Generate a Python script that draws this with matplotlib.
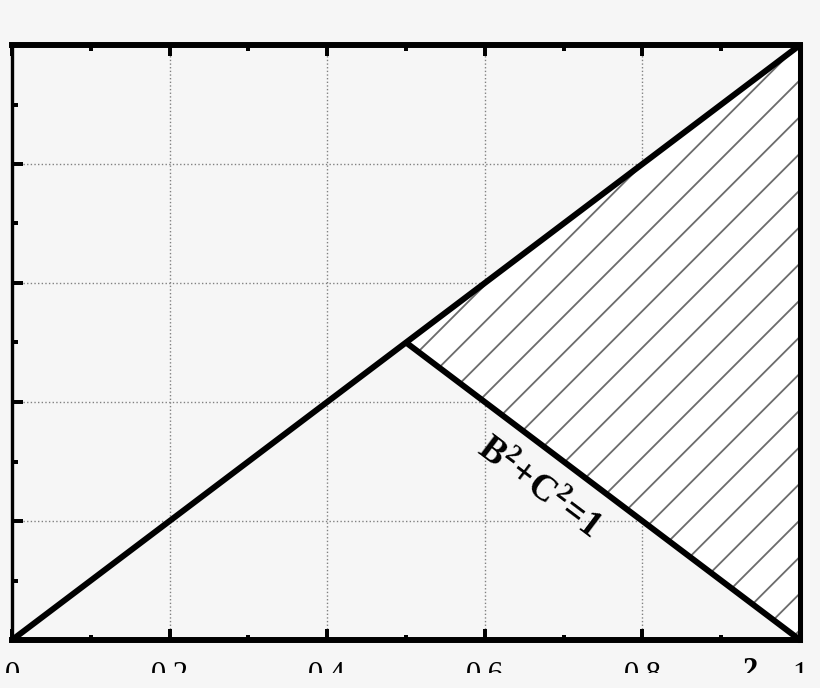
import matplotlib
matplotlib.use('Agg')
import matplotlib.pyplot as plt
from matplotlib.patches import Rectangle
from matplotlib.ticker import MultipleLocator


# Data (B^2 on x, C^2 on y)
diag_x = [0.0, 1.0]
diag_y = [0.0, 1.0]
circle_x = [0.5, 1.0]
circle_y = [0.5, 0.0]
region_x = [0.5, 1.0, 1.0]
region_y = [0.5, 1.0, 0.0]
x_ticks = [0, 0.2, 0.4, 0.6, 0.8, 1]
x_tick_labels = ['0', '0.2', '0.4', '0.6', '0.8', '1']
curve_label = r'$\mathbf{B^2\!+\!C^2\!=\!1}$'
x_title_visible = '2'  # only the exponent of the x title survives the crop

bg = '#f6f6f6'

plt.rcParams['font.family'] = 'Liberation Serif'
plt.rcParams['mathtext.fontset'] = 'custom'
plt.rcParams['mathtext.rm'] = 'Liberation Serif'
plt.rcParams['mathtext.bf'] = 'Liberation Serif:bold'
plt.rcParams['hatch.linewidth'] = 1.2

dpi = 110
fig = plt.figure(figsize=(820 / dpi, 688 / dpi), dpi=dpi, facecolor=bg)
axes = fig.add_axes([12 / 820, 48 / 688, 788 / 820, 595 / 688], facecolor=bg)

# Hatched region above the B^2+C^2=1 line
axes.fill(region_x, region_y, facecolor='white', edgecolor='#6c6c6c',
          hatch='/', linewidth=0, zorder=2)

axes.plot(diag_x, diag_y, color='black', linewidth=3.9, zorder=3,
          solid_capstyle='butt', clip_on=False)
axes.plot(circle_x, circle_y, color='black', linewidth=3.9, zorder=3,
          solid_capstyle='butt', clip_on=False)

axes.text(0.668, 0.255, curve_label, fontsize=24, rotation=-37,
          ha='center', va='center', zorder=4)

axes.set_xlim(0, 1)
axes.set_ylim(0, 1)
axes.set_xticks(x_ticks)
axes.set_xticklabels(x_tick_labels)
axes.xaxis.set_minor_locator(MultipleLocator(0.1))
axes.yaxis.set_major_locator(MultipleLocator(0.2))
axes.yaxis.set_minor_locator(MultipleLocator(0.1))
axes.tick_params(which='both', direction='in', top=True, right=True,
                 width=2.6, labelsize=20, pad=14)
axes.tick_params(which='major', length=7.2)
axes.tick_params(which='minor', length=3.6)
axes.tick_params(axis='y', labelleft=False)

axes.grid(True, which='major', linestyle=':', color='#808080', linewidth=0.9)
axes.set_axisbelow(True)

for side, lw in [('top', 3.9), ('bottom', 3.9), ('left', 2.2), ('right', 3.3)]:
    axes.spines[side].set_linewidth(lw)
    axes.spines[side].set_zorder(5)

# x-axis title, mostly cut off by the frame bottom
fig.text(750 / 820, 1 - 657 / 688, x_title_visible, fontsize=20,
         fontweight='bold', ha='center', va='top')

# The picture is cropped just under the tick labels
fig.add_artist(Rectangle((0, 0), 1, 15 / 688, transform=fig.transFigure,
                         facecolor=bg, edgecolor='none', zorder=10))

fig.savefig('out.png', dpi=dpi, facecolor=bg)
plt.close(fig)
